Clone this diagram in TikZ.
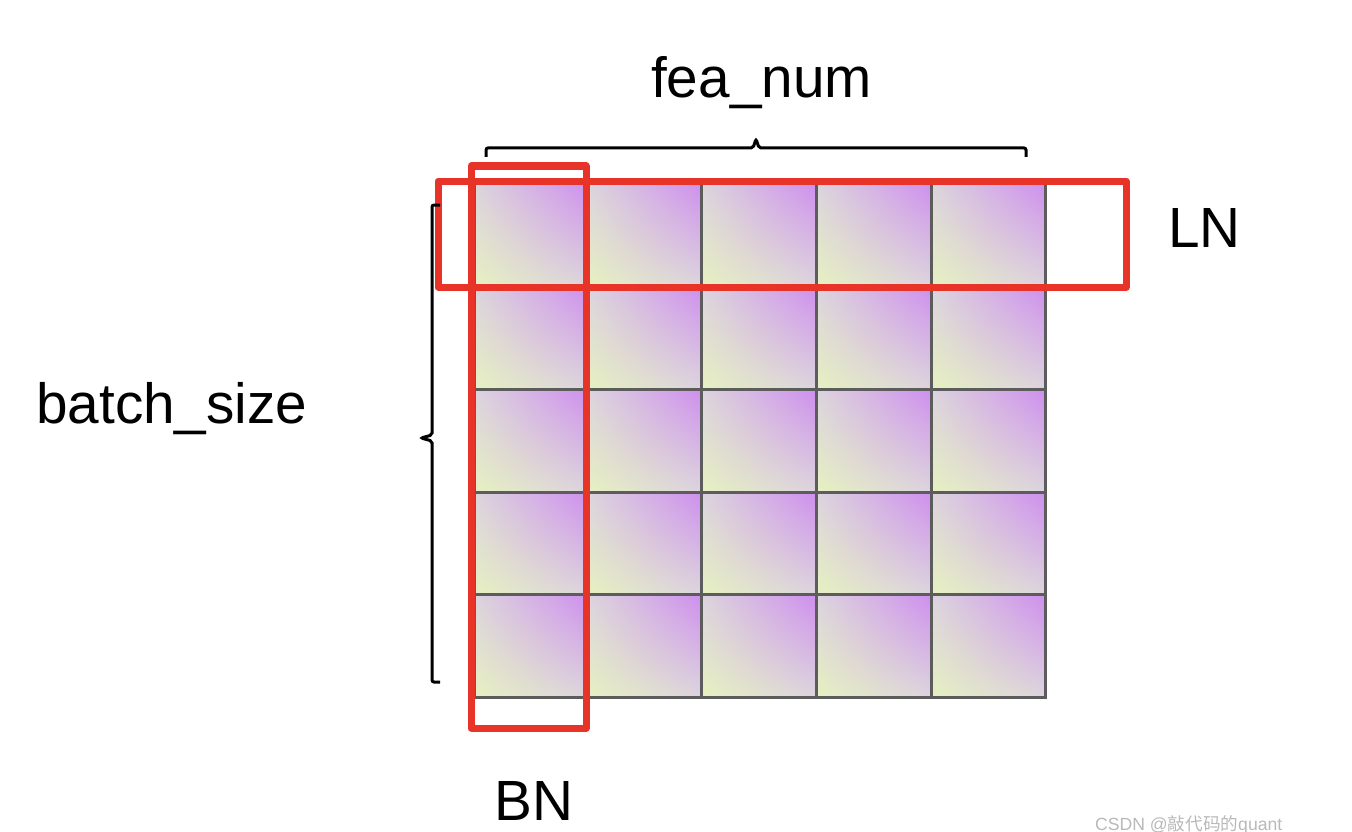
\documentclass[tikz,border=0pt]{standalone}
\usepackage{fontspec}
\setmainfont{Liberation Sans}
\newfontfamily\cjk{Noto Sans CJK SC}
\usetikzlibrary{shadings}
\definecolor{cellpurple}{RGB}{206,142,238}
\definecolor{cellyellow}{RGB}{230,241,192}
\definecolor{cellgray}{RGB}{220,212,222}
\definecolor{gridline}{RGB}{92,92,92}
\definecolor{selred}{RGB}{232,52,40}
\definecolor{wmgray}{RGB}{185,185,185}
\tikzset{
  cellfill/.style={upper right=cellpurple, lower left=cellyellow, upper left=cellgray, lower right=cellgray},
  gridpen/.style={draw=gridline, line width=3pt, line cap=rect},
  selbox/.style={draw=selred, line width=7pt, line join=round},
  bracepen/.style={draw=black, line width=3pt, rounded corners=2pt},
  label/.style={font=\fontsize{56.7}{68}\selectfont, inner sep=0pt, anchor=base west},
}
\begin{document}
\begin{tikzpicture}[x=1pt,y=-1pt]
\useasboundingbox[fill=white] (0,0) rectangle (1352,832);
% grid cells
\def\xs{{474,588,701,816,931,1045}}
\def\ys{{182,286,389,492,594,697}}
\foreach \i in {0,...,4}{
  \foreach \j in {0,...,4}{
    \pgfmathsetmacro\xa{\xs[\i]}
    \pgfmathsetmacro\xb{\xs[\i+1]}
    \pgfmathsetmacro\ya{\ys[\j]}
    \pgfmathsetmacro\yb{\ys[\j+1]}
    \shade[cellfill] (\xa,\ya) rectangle (\xb,\yb);
  }
}
\foreach \x in {474,588,701,816,931,1045}{ \draw[gridpen] (\x,182) -- (\x,697); }
\foreach \y in {182,286,389,492,594,697}{ \draw[gridpen] (474,\y) -- (1045,\y); }
% selections
\draw[selbox] (438,181) rectangle (1126,287);
\draw[selbox] (471,166) rectangle (586,728);
% braces
\coordinate (tbl) at (486,157);
\coordinate (tbr) at (1026,157);
\coordinate (tbt) at (756,139);
\coordinate (lbt) at (440,205);
\coordinate (lbb) at (440,682);
\coordinate (lbm) at (421,438);
\draw[bracepen] (tbl) -- (486,148) -- (753,148) -- (tbt) -- (759,148) -- (1026,148) -- (tbr);
\draw[bracepen] (lbt) -- (432,205) -- (432,435) -- (lbm) -- (432,441) -- (432,682) -- (lbb);
% labels
\node[label] (fea) at (651,98) {fea\_num};
\node[label] (bs) at (36,423) {batch\_size};
\node[label] (ln) at (1168,247) {LN};
\node[label] (bn) at (494,820) {BN};
\node[font=\fontsize{17.6}{20}\selectfont, text=wmgray, inner sep=0pt, anchor=base west] (wm) at (1095,830) {CSDN @{\cjk 敲代码的}quant};
\end{tikzpicture}
\end{document}
